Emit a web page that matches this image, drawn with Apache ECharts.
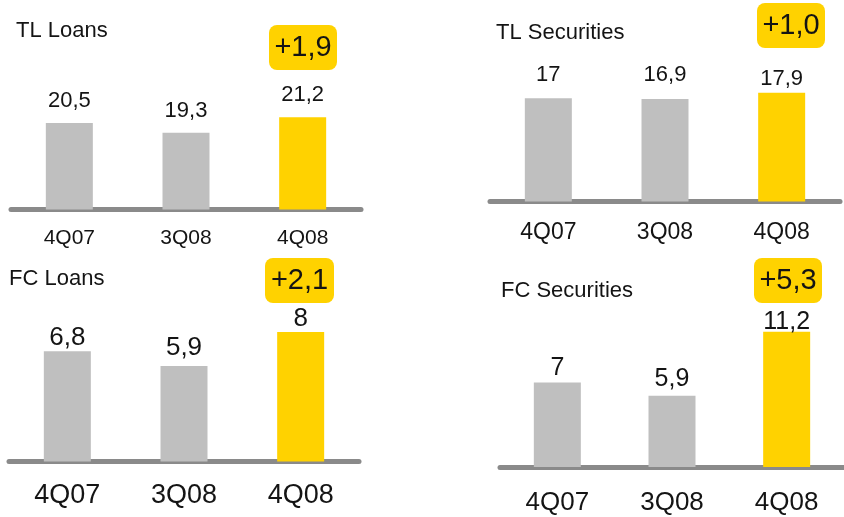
<!DOCTYPE html>
<html>
<head>
<meta charset="utf-8">
<style>
  html, body { margin: 0; padding: 0; background: #fff; }
  #chart { width: 844px; height: 517px; }
</style>
<script src="https://cdn.jsdelivr.net/npm/echarts@6/dist/echarts.min.js"></script>
</head>
<body>
<div id="chart"></div>
<script>
// Quarterly balances (TL / FC loans and securities)
const categories = ['4Q07', '3Q08', '4Q08'];
const tlLoans = [20.5, 19.3, 21.2];
const tlSecurities = [17, 16.9, 17.9];
const fcLoans = [6.8, 5.9, 8];
const fcSecurities = [7, 5.9, 11.2];
const panelTitles = ['TL Loans', 'TL Securities', 'FC Loans', 'FC Securities'];
const panelData = [tlLoans, tlSecurities, fcLoans, fcSecurities];

const FONT = "'Liberation Sans', Arial, sans-serif";
const GREY = '#BFBFBF';
const YELLOW = '#FFD200';
const AXIS = '#8A8A8A';
const INK = '#141414';

// Layout of each small panel
const panels = [
  { grid: { left: 11, top: 44.7, width: 350, height: 164.8 }, min: 10, max: 30,
    catSize: 21, catMargin: 18, valSize: 22, valGap: [11, 11, 11],
    title: { left: 16, top: 20 }, badge: { x: 269, y: 25, w: 68, h: 45 } },
  { grid: { left: 490, top: 19.4, width: 350, height: 182.1 }, min: 0, max: 30,
    catSize: 23, catMargin: 20, valSize: 22, valGap: [12, 13, 3],
    title: { left: 496, top: 21.5 }, badge: { x: 757, y: 3, w: 68, h: 45 } },
  { grid: { left: 9, top: 299.5, width: 350, height: 162 }, min: 0, max: 10,
    catSize: 27, catMargin: 21, valSize: 26, valGap: [1, 5, 0],
    title: { left: 9, top: 267.5 }, badge: { x: 265, y: 258, w: 69, h: 45 } },
  { grid: { left: 500, top: 286, width: 348, height: 181 }, min: 0, max: 15,
    catSize: 26, catMargin: 23, valSize: 25, valGap: [2, 4, -3],
    title: { left: 501, top: 279.5 }, badge: { x: 754, y: 258, w: 68, h: 45 } }
];

const fmt = v => String(v).replace('.', ',');

const option = {
  animation: false,
  backgroundColor: '#fff',
  textStyle: { fontFamily: FONT },
  title: panels.map((p, i) => ({
    text: panelTitles[i],
    left: p.title.left,
    top: p.title.top,
    padding: 0,
    textStyle: { fontFamily: FONT, fontSize: 22, fontWeight: 'normal', color: INK }
  })),
  grid: panels.map(p => Object.assign({ containLabel: false }, p.grid)),
  xAxis: panels.map((p, i) => ({
    type: 'category',
    gridIndex: i,
    data: categories,
    axisLine: { show: true, lineStyle: { color: AXIS, width: 5 } },
    axisTick: { show: false },
    axisLabel: { fontFamily: FONT, fontSize: p.catSize, color: INK, margin: p.catMargin }
  })),
  yAxis: panels.map((p, i) => ({
    type: 'value',
    gridIndex: i,
    min: p.min,
    max: p.max,
    show: false,
    splitLine: { show: false }
  })),
  series: panels.map((p, i) => ({
    type: 'bar',
    xAxisIndex: i,
    yAxisIndex: i,
    barWidth: 47,
    z: 1,
    data: panelData[i].map((v, k) => ({
      value: v,
      itemStyle: { color: k === categories.length - 1 ? YELLOW : GREY },
      label: { distance: p.valGap[k] }
    })),
    label: {
      show: true,
      position: 'top',
      formatter: d => fmt(d.value),
      fontFamily: FONT,
      fontSize: p.valSize,
      color: INK
    }
  })),
  // Change versus the previous quarter, shown in a yellow badge
  graphic: panels.map((p, i) => {
    const d = panelData[i];
    const diff = d[2] - d[1];
    return {
      type: 'rect',
      shape: { x: p.badge.x, y: p.badge.y, width: p.badge.w, height: p.badge.h, r: 8 },
      style: { fill: YELLOW },
      textContent: {
        style: { text: '+' + diff.toFixed(1).replace('.', ','), fontFamily: FONT, fontSize: 29, fill: INK }
      },
      textConfig: { position: 'inside' }
    };
  })
};

const chart = echarts.init(document.getElementById('chart'), null, { renderer: 'canvas' });
chart.setOption(option);
</script>
</body>
</html>
